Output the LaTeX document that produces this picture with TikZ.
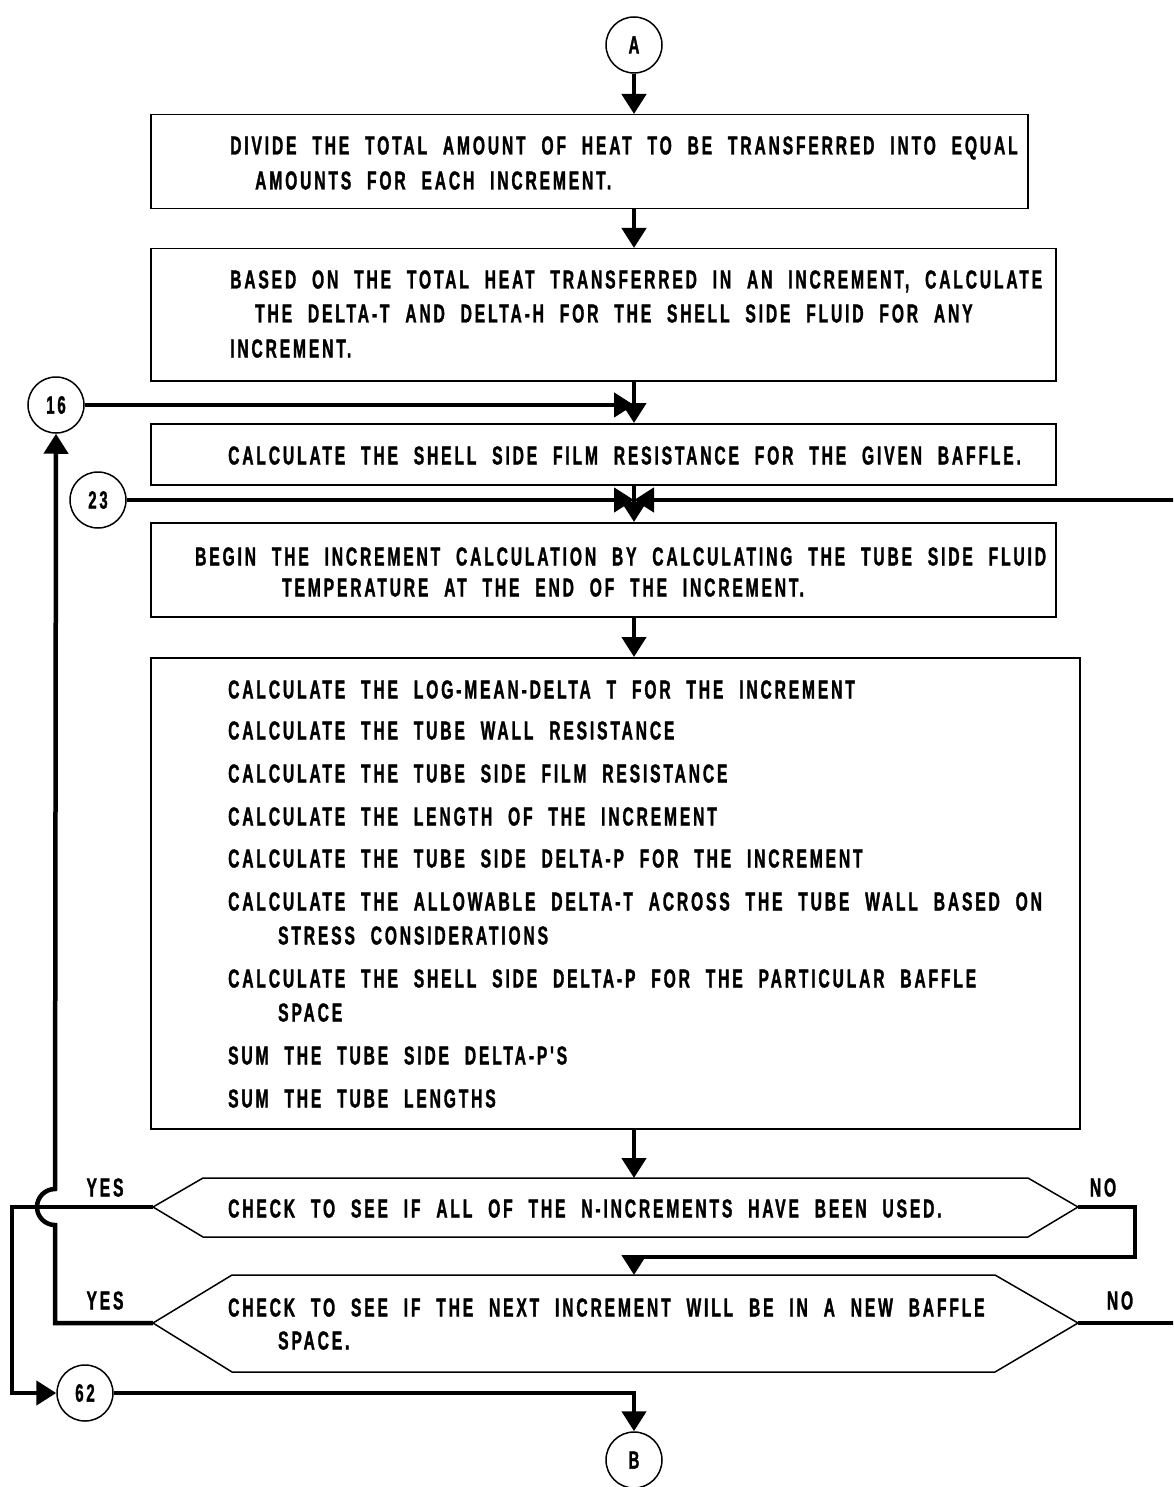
\documentclass[tikz,border=0pt]{standalone}
\usepackage{fontspec}
\newfontfamily\chartfont{Liberation Sans}[FakeStretch=0.6,LetterSpace=11,WordSpace=2.2,FakeBold=1.2]
\usepackage{tikz}
\usetikzlibrary{arrows.meta,calc}
\tikzset{
  box/.style   = {draw, rectangle, line width=1.5pt, anchor=north west},
  txt/.style   = {anchor=west, inner sep=0pt, text height=19pt, text depth=0pt,
                  font=\chartfont\bfseries\fontsize{26}{30}\selectfont},
  conn/.style  = {draw, circle, line width=1.5pt, minimum size=56pt, inner sep=0pt,
                  font=\chartfont\bfseries\fontsize{25}{30}\selectfont},
  dec/.style   = {line width=1.5pt},
  flow/.style  = {-{Triangle[length=20pt,width=24pt]}, line width=4.5pt},
  plain/.style = {line width=4.5pt}
}
\begin{document}
\begin{tikzpicture}[x=1pt, y=-1pt]
\clip (0,0) rectangle (1173,1487);

% ---------- entry connector ----------
\node[conn] (A) at (634,45) {A};

% ---------- process boxes ----------
\node[box, minimum width=877pt, minimum height=94pt]  (b1) at (150,114) {};
\node[txt] (t1a) at (230,145) {DIVIDE THE TOTAL AMOUNT OF HEAT TO BE TRANSFERRED INTO EQUAL};
\node[txt] (t1b) at (255,180) {AMOUNTS FOR EACH INCREMENT.};

\node[box, minimum width=905pt, minimum height=132pt] (b2) at (150,248) {};
\node[txt] (t2a) at (230,279) {BASED ON THE TOTAL HEAT TRANSFERRED IN AN INCREMENT, CALCULATE};
\node[txt] (t2b) at (255,313) {THE DELTA-T AND DELTA-H FOR THE SHELL SIDE FLUID FOR ANY};
\node[txt] (t2c) at (230,348) {INCREMENT.};

\node[box, minimum width=905pt, minimum height=61pt]  (b3) at (150,423) {};
\node[txt] (t3a) at (228,455) {CALCULATE THE SHELL SIDE FILM RESISTANCE FOR THE GIVEN BAFFLE.};

\node[box, minimum width=905pt, minimum height=94pt]  (b4) at (150,522) {};
\node[txt] (t4a) at (195,556) {BEGIN THE INCREMENT CALCULATION BY CALCULATING THE TUBE SIDE FLUID};
\node[txt] (t4b) at (282,587) {TEMPERATURE AT THE END OF THE INCREMENT.};

\node[box, minimum width=929pt, minimum height=471pt] (b5) at (150,657) {};
\node[txt] (t5a) at (228,689)  {CALCULATE THE LOG-MEAN-DELTA T FOR THE INCREMENT};
\node[txt] (t5b) at (228,730)  {CALCULATE THE TUBE WALL RESISTANCE};
\node[txt] (t5c) at (228,773)  {CALCULATE THE TUBE SIDE FILM RESISTANCE};
\node[txt] (t5d) at (228,816)  {CALCULATE THE LENGTH OF THE INCREMENT};
\node[txt] (t5e) at (228,858)  {CALCULATE THE TUBE SIDE DELTA-P FOR THE INCREMENT};
\node[txt] (t5f) at (228,901)  {CALCULATE THE ALLOWABLE DELTA-T ACROSS THE TUBE WALL BASED ON};
\node[txt] (t5g) at (278,935)  {STRESS CONSIDERATIONS};
\node[txt] (t5h) at (228,978)  {CALCULATE THE SHELL SIDE DELTA-P FOR THE PARTICULAR BAFFLE};
\node[txt] (t5i) at (278,1012) {SPACE};
\node[txt] (t5j) at (228,1055) {SUM THE TUBE SIDE DELTA-P'S};
\node[txt] (t5k) at (228,1098) {SUM THE TUBE LENGTHS};

% ---------- decisions ----------
\coordinate (d1w) at (153,1207);
\coordinate (d1e) at (1078,1207);
\coordinate (d1n) at (634,1178);
\draw[dec] (d1w) -- (203,1178) -- (1028,1178) -- (d1e) -- (1028,1237) -- (203,1237) -- cycle;
\node[txt] (t6a) at (228,1208) {CHECK TO SEE IF ALL OF THE N-INCREMENTS HAVE BEEN USED.};

\coordinate (d2w) at (153,1323);
\coordinate (d2e) at (1078,1323);
\coordinate (d2n) at (634,1275);
\draw[dec] (d2w) -- (232,1275) -- (995,1275) -- (d2e) -- (995,1372) -- (232,1372) -- cycle;
\node[txt] (t7a) at (228,1307) {CHECK TO SEE IF THE NEXT INCREMENT WILL BE IN A NEW BAFFLE};
\node[txt] (t7b) at (278,1340) {SPACE.};

\node[txt, anchor=center] (y1) at (105,1187) {YES};
\node[txt, anchor=center] (n1) at (1103,1187) {NO};
\node[txt, anchor=center] (y2) at (105,1300) {YES};
\node[txt, anchor=center] (n2) at (1120,1300) {NO};

% ---------- off-page connectors ----------
\node[conn] (c16) at (56,405)  {16};
\node[conn] (c23) at (98,500)  {23};
\node[conn] (c62) at (85,1393) {62};
\node[conn] (B)   at (634,1460) {B};

\coordinate (j16) at (634,405);
\coordinate (j23) at (634,500);

% ---------- main flow ----------
\draw[flow] (A.south) -- (b1.north -| A);
\draw[flow] (b1.south -| A) -- (b2.north -| A);
\draw[flow] (b2.south -| A) -- (b3.north -| A);
\draw[flow] (b3.south -| A) -- (b4.north -| A);
\draw[flow] (b4.south -| A) -- (b5.north -| A);
\draw[flow] (b5.south -| A) -- (d1n);

\draw[flow] (c16.east) -- (j16);
\draw[flow] (c23.east) -- (j23);

% NO from first check drops into second check
\draw[flow] (d1e) -- (1135,1207) -- (1135,1257) -- (634,1257) -- (d2n);
% NO from second check returns to 23
\draw[flow] (d2e) -- (1200,1323) -- (1200,500) -- (j23);

% YES from first check goes to 62, then to B
\draw[flow] (d1w) -- (12,1207) |- (c62.west);
\draw[flow] (c62.east) -| (B.north);

% YES from second check hops over and returns to 16
\draw[flow] (d2w) -- (55,1323) -- (55,1225)
      arc[start angle=90, end angle=270, radius=18] -- (c16.south);

\end{tikzpicture}
\end{document}
